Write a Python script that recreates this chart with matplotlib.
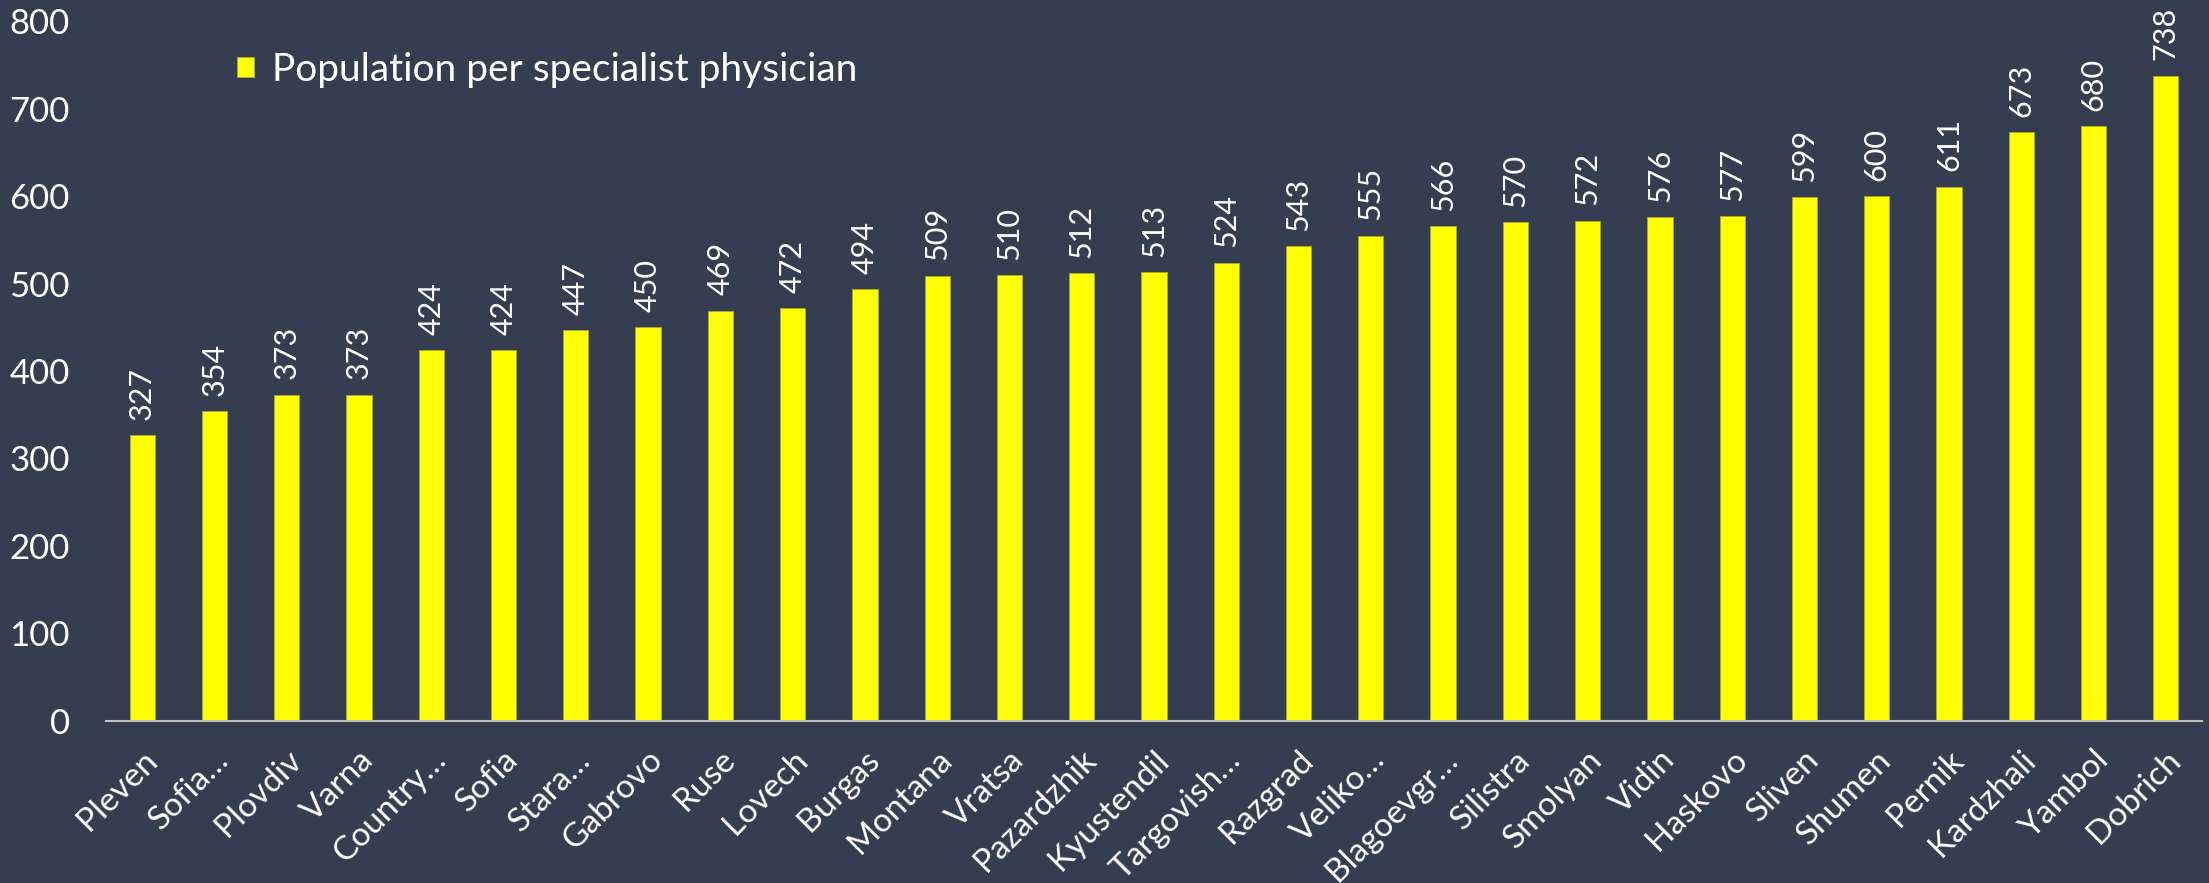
import matplotlib
matplotlib.use("Agg")
import matplotlib.pyplot as plt
import matplotlib.transforms as mtransforms
import numpy as np

# data
districts = ["Pleven", "Sofia…", "Plovdiv", "Varna", "Country…", "Sofia", "Stara…",
             "Gabrovo", "Ruse", "Lovech", "Burgas", "Montana", "Vratsa", "Pazardzhik",
             "Kyustendil", "Targovish…", "Razgrad", "Veliko…", "Blagoevgr…", "Silistra",
             "Smolyan", "Vidin", "Haskovo", "Sliven", "Shumen", "Pernik", "Kardzhali",
             "Yambol", "Dobrich"]
population_per_specialist = [327, 354, 373, 373, 424, 424, 447, 450, 469, 472, 494, 509,
                             510, 512, 513, 524, 543, 555, 566, 570, 572, 576, 577, 599,
                             600, 611, 673, 680, 738]
y_ticks = [0, 100, 200, 300, 400, 500, 600, 700, 800]

bg = "#343e50"
plt.rcParams['font.family'] = ['Lato', 'DejaVu Sans']

fig = plt.figure(figsize=(22.09, 8.83), dpi=100, facecolor=bg)
ax = fig.add_axes([0.048, 0.184, 0.9488, 0.7917])
ax.set_facecolor(bg)

x = np.arange(len(districts))
ax.bar(x, population_per_specialist, width=0.35, color="#ffff00",
       edgecolor="#a8a830", linewidth=0.6, label="Population per specialist physician")

# value labels, rotated, above each bar
for xi, v in zip(x, population_per_specialist):
    ax.annotate(str(v), (xi, v), xytext=(0, 11), textcoords="offset points",
                rotation=90, ha="center", va="bottom", color="white", fontsize=22)

ax.set_xlim(-0.5, len(districts) - 0.5)
ax.set_ylim(0, 800)
ax.set_yticks(y_ticks)
ax.set_xticks(x)
ax.set_xticklabels(districts, rotation=45, ha="right", va="center", rotation_mode="anchor")

ax.tick_params(axis="y", length=0, pad=26, labelsize=25, labelcolor="white")
ax.tick_params(axis="x", length=0, pad=25, labelsize=24, labelcolor="white")

# nudge the slanted labels a little to the right like the original
shift = mtransforms.ScaledTranslation(10 / 100, 0, fig.dpi_scale_trans)
for lbl in ax.get_xticklabels():
    lbl.set_transform(lbl.get_transform() + shift)

for s in ["top", "right", "left"]:
    ax.spines[s].set_visible(False)
ax.spines["bottom"].set_color("#bfbfbf")
ax.spines["bottom"].set_linewidth(1.5)

ax.legend(loc="center left", bbox_to_anchor=(0.0625, 0.9306), frameon=False,
          fontsize=28, labelcolor="white", handlelength=0.44, handleheight=0.44,
          handletextpad=0.46, borderpad=0, borderaxespad=0)

fig.savefig("out.png", dpi=100, facecolor=bg)
